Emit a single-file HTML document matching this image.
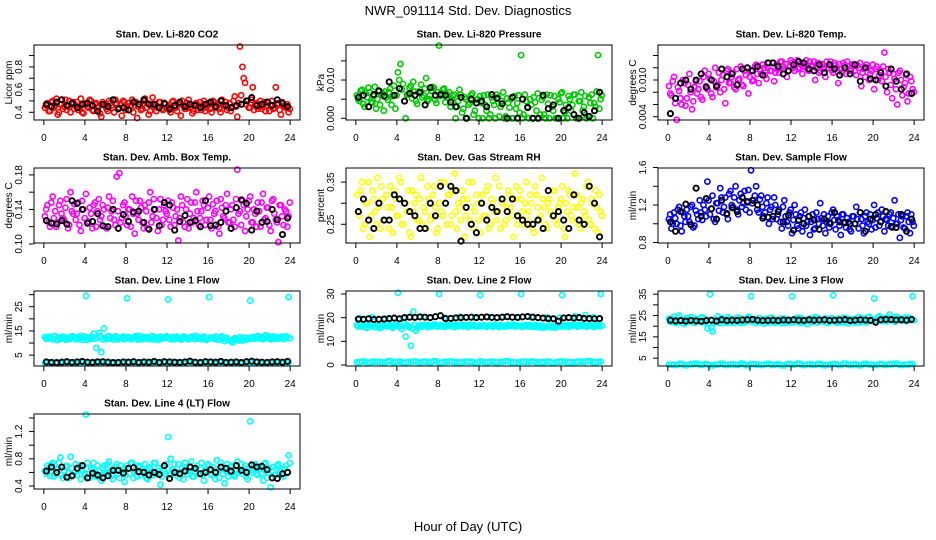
<!DOCTYPE html>
<html><head><meta charset="utf-8"><style>
html,body{margin:0;padding:0;background:#fff}
svg{display:block;font-family:"Liberation Sans",sans-serif}
</style></head><body>
<svg id="fig" width="936" height="540" viewBox="0 0 936 540" xmlns="http://www.w3.org/2000/svg">
<rect width="936" height="540" fill="#fff"/>
<text x="468" y="15" font-size="13" text-anchor="middle">NWR_091114  Std. Dev. Diagnostics</text>
<text x="468" y="531" font-size="13" text-anchor="middle">Hour of Day (UTC)</text>
</svg>
<script>
const xTicks = [0,4,8,12,16,20,24];

const co2 = [0.44,0.48,0.41,0.50,0.46,0.38,0.47,0.43,0.51,0.45,0.40,0.49,0.46,0.42,0.52,0.39,0.47,0.44,0.50,0.41,0.48,0.45,0.36,0.47,0.43,0.50,0.46,0.40,0.48,0.44,0.37,0.49,0.45,0.42,0.51,0.46,0.35,0.47,0.43,0.52,0.48,0.41,0.53,0.46,0.44,0.49,0.42,0.47,0.45,0.40,0.50,0.44,0.48,0.37,0.46,0.43,0.51,0.45,0.41,0.48,0.46,0.42,0.50,0.44,0.47,0.40,0.49,0.45,0.43,0.51,0.46,0.42,0.48,0.44,0.54,0.36,0.98,0.80,0.66,0.50,0.44,0.62,0.47,0.43,0.50,0.45,0.41,0.49,0.46,0.43,0.62,0.48,0.38,0.46,0.44,0.40];
const co2B = [0.46,0.41,0.49,0.44,0.52,0.40,0.47,0.45,0.42,0.50,0.47,0.43,0.49,0.44,0.40,0.48,0.45,0.51,0.42,0.47,0.44,0.39,0.49,0.46,0.41,0.48,0.44,0.51,0.43,0.47,0.50,0.42,0.48,0.46,0.40,0.49,0.45,0.42,0.50,0.44,0.38,0.47,0.45,0.41,0.49,0.43,0.48,0.44,0.42,0.49,0.45,0.41,0.47,0.50,0.43,0.48,0.44,0.39,0.47,0.42,0.49,0.45,0.41,0.48,0.43,0.50,0.44,0.47,0.40,0.46,0.49,0.44,0.41,0.50,0.45,0.48,0.55,0.70,0.47,0.44,0.51,0.42,0.48,0.45,0.43,0.49,0.46,0.41,0.50,0.44,0.47,0.42,0.49,0.45,0.47,0.43];
const co2Black = [0.47,0.45,0.49,0.51,0.46,0.48,0.44,0.47,0.48,0.46,0.41,0.47,0.45,0.51,0.43,0.44,0.42,0.49,0.47,0.51,0.47,0.47,0.44,0.48,0.43,0.46,0.49,0.45,0.47,0.46,0.44,0.47,0.49,0.45,0.50,0.46,0.44,0.46,0.47,0.50,0.53,0.46,0.47,0.49,0.46,0.51,0.48,0.45];

const pres = [0.0060,0.0045,0.0075,0.0030,0.0055,0.0068,0.0040,0.0082,0.0050,0.0035,0.0065,0.0070,0.0048,0.0078,0.0058,0.0025,0.0120,0.0142,0.0090,0.0000,0.0062,0.0085,0.0095,0.0045,0.0070,0.0088,0.0060,0.0105,0.0050,0.0072,0.0080,0.0040,0.0190,0.0065,0.0078,0.0055,0.0068,0.0048,0.0062,0.0030,0.0075,0.0015,0.0055,0.0000,0.0040,0.0065,0.0020,0.0050,0.0058,0.0000,0.0035,0.0062,0.0010,0.0045,0.0000,0.0055,0.0030,0.0068,0.0005,0.0040,0.0050,0.0000,0.0025,0.0060,0.0165,0.0010,0.0045,0.0000,0.0035,0.0055,0.0020,0.0000,0.0048,0.0010,0.0062,0.0000,0.0030,0.0058,0.0000,0.0042,0.0068,0.0015,0.0000,0.0050,0.0035,0.0062,0.0000,0.0045,0.0020,0.0058,0.0005,0.0040,0.0000,0.0030,0.0165,0.0050];
const presB = [0.0050,0.0072,0.0038,0.0065,0.0080,0.0042,0.0058,0.0025,0.0070,0.0062,0.0020,0.0055,0.0068,0.0035,0.0085,0.0060,0.0100,0.0075,0.0045,0.0062,0.0080,0.0052,0.0070,0.0038,0.0065,0.0055,0.0078,0.0045,0.0060,0.0082,0.0048,0.0068,0.0058,0.0075,0.0042,0.0062,0.0030,0.0058,0.0000,0.0045,0.0062,0.0025,0.0050,0.0035,0.0060,0.0010,0.0048,0.0000,0.0040,0.0060,0.0020,0.0000,0.0055,0.0035,0.0062,0.0005,0.0045,0.0000,0.0052,0.0028,0.0000,0.0058,0.0040,0.0015,0.0000,0.0062,0.0030,0.0050,0.0000,0.0042,0.0065,0.0010,0.0055,0.0000,0.0038,0.0060,0.0020,0.0000,0.0050,0.0065,0.0000,0.0035,0.0058,0.0020,0.0062,0.0000,0.0045,0.0068,0.0030,0.0000,0.0055,0.0062,0.0040,0.0070,0.0025,0.0060];
const presBlack = [0.0055,0.0060,0.0030,0.0062,0.0072,0.0058,0.0095,0.0060,0.0078,0.0045,0.0065,0.0060,0.0068,0.0035,0.0080,0.0060,0.0062,0.0060,0.0042,0.0030,0.0055,0.0000,0.0050,0.0040,0.0045,0.0030,0.0062,0.0052,0.0038,0.0000,0.0055,0.0000,0.0050,0.0028,0.0000,0.0000,0.0060,0.0025,0.0035,0.0000,0.0020,0.0028,0.0010,0.0000,0.0015,0.0005,0.0020,0.0068];

const ltemp = [0.0090,0.0075,0.0105,0.0035,0.0082,0.0060,0.0095,0.0070,0.0110,0.0052,0.0088,0.0078,0.0098,0.0068,0.0115,0.0085,0.0102,0.0072,0.0120,0.0092,0.0080,0.0108,0.0062,0.0118,0.0095,0.0112,0.0085,0.0100,0.0122,0.0090,0.0108,0.0078,0.0115,0.0100,0.0125,0.0095,0.0110,0.0120,0.0102,0.0128,0.0115,0.0098,0.0125,0.0112,0.0130,0.0118,0.0105,0.0122,0.0128,0.0115,0.0132,0.0120,0.0110,0.0126,0.0118,0.0130,0.0122,0.0100,0.0128,0.0115,0.0125,0.0105,0.0120,0.0130,0.0112,0.0124,0.0095,0.0118,0.0128,0.0110,0.0122,0.0115,0.0126,0.0108,0.0120,0.0090,0.0118,0.0125,0.0100,0.0115,0.0085,0.0122,0.0108,0.0098,0.0145,0.0080,0.0112,0.0070,0.0102,0.0060,0.0115,0.0075,0.0095,0.0065,0.0105,0.0085];
const ltempB = [0.0078,0.0098,0.0062,0.0088,0.0070,0.0100,0.0058,0.0092,0.0080,0.0065,0.0098,0.0085,0.0072,0.0105,0.0090,0.0110,0.0078,0.0098,0.0088,0.0112,0.0100,0.0085,0.0115,0.0095,0.0105,0.0088,0.0118,0.0102,0.0092,0.0115,0.0120,0.0105,0.0098,0.0122,0.0110,0.0118,0.0125,0.0108,0.0120,0.0115,0.0128,0.0112,0.0118,0.0130,0.0122,0.0126,0.0115,0.0132,0.0120,0.0126,0.0118,0.0128,0.0122,0.0132,0.0115,0.0124,0.0130,0.0120,0.0112,0.0126,0.0118,0.0130,0.0125,0.0116,0.0128,0.0120,0.0126,0.0112,0.0124,0.0130,0.0118,0.0125,0.0115,0.0124,0.0128,0.0112,0.0105,0.0120,0.0110,0.0125,0.0118,0.0100,0.0115,0.0122,0.0105,0.0118,0.0092,0.0110,0.0085,0.0112,0.0100,0.0088,0.0108,0.0078,0.0098,0.0080];
const ltempBlack = [0.0045,0.0070,0.0095,0.0100,0.0085,0.0100,0.0110,0.0088,0.0100,0.0090,0.0118,0.0105,0.0110,0.0092,0.0118,0.0120,0.0115,0.0122,0.0108,0.0128,0.0128,0.0122,0.0110,0.0115,0.0125,0.0130,0.0128,0.0118,0.0115,0.0125,0.0112,0.0125,0.0118,0.0108,0.0120,0.0110,0.0125,0.0098,0.0120,0.0102,0.0100,0.0112,0.0090,0.0118,0.0098,0.0085,0.0110,0.0078];

const amb = [0.132,0.145,0.120,0.155,0.138,0.125,0.150,0.130,0.142,0.118,0.160,0.135,0.128,0.148,0.115,0.140,0.158,0.126,0.135,0.145,0.120,0.152,0.132,0.140,0.118,0.155,0.138,0.128,0.178,0.182,0.130,0.148,0.122,0.140,0.155,0.112,0.135,0.150,0.125,0.145,0.118,0.160,0.132,0.140,0.115,0.152,0.128,0.138,0.150,0.120,0.142,0.132,0.104,0.155,0.125,0.140,0.118,0.148,0.130,0.160,0.122,0.138,0.145,0.128,0.155,0.118,0.135,0.150,0.112,0.142,0.130,0.158,0.125,0.145,0.120,0.186,0.138,0.150,0.115,0.140,0.155,0.125,0.135,0.148,0.120,0.158,0.130,0.142,0.115,0.152,0.128,0.102,0.145,0.122,0.138,0.132];
const ambB = [0.140,0.125,0.148,0.130,0.120,0.145,0.135,0.128,0.152,0.122,0.138,0.146,0.135,0.122,0.150,0.130,0.125,0.142,0.118,0.148,0.138,0.128,0.145,0.120,0.142,0.130,0.150,0.122,0.138,0.125,0.145,0.132,0.140,0.120,0.135,0.150,0.128,0.142,0.118,0.138,0.148,0.125,0.152,0.130,0.140,0.122,0.145,0.135,0.128,0.148,0.122,0.140,0.130,0.145,0.120,0.152,0.135,0.125,0.148,0.138,0.130,0.150,0.122,0.142,0.128,0.146,0.138,0.120,0.152,0.132,0.145,0.125,0.140,0.128,0.152,0.135,0.122,0.145,0.132,0.150,0.125,0.140,0.120,0.138,0.148,0.128,0.142,0.122,0.150,0.135,0.125,0.145,0.132,0.140,0.120,0.148];
const ambBlack = [0.127,0.124,0.123,0.127,0.123,0.150,0.147,0.140,0.124,0.126,0.135,0.121,0.120,0.140,0.118,0.134,0.126,0.137,0.138,0.125,0.117,0.140,0.121,0.148,0.145,0.116,0.126,0.133,0.125,0.127,0.120,0.150,0.121,0.122,0.125,0.138,0.118,0.142,0.151,0.147,0.116,0.138,0.125,0.126,0.140,0.128,0.111,0.130];

const rh = [0.32,0.27,0.35,0.25,0.30,0.22,0.33,0.28,0.36,0.24,0.31,0.26,0.29,0.34,0.23,0.31,0.27,0.35,0.25,0.30,0.33,0.22,0.28,0.32,0.26,0.36,0.29,0.24,0.31,0.27,0.34,0.23,0.30,0.28,0.35,0.25,0.32,0.27,0.37,0.24,0.29,0.33,0.22,0.31,0.26,0.35,0.28,0.30,0.23,0.32,0.27,0.34,0.25,0.30,0.36,0.28,0.24,0.31,0.26,0.33,0.29,0.22,0.34,0.27,0.31,0.25,0.35,0.28,0.30,0.23,0.32,0.26,0.36,0.29,0.24,0.31,0.27,0.33,0.25,0.30,0.34,0.22,0.28,0.32,0.26,0.37,0.29,0.24,0.31,0.27,0.35,0.25,0.30,0.33,0.23,0.28];
const rhB = [0.28,0.33,0.24,0.30,0.35,0.27,0.31,0.25,0.29,0.34,0.26,0.32,0.24,0.29,0.33,0.27,0.36,0.25,0.30,0.28,0.23,0.33,0.30,0.26,0.31,0.25,0.28,0.34,0.26,0.32,0.29,0.24,0.35,0.27,0.30,0.32,0.25,0.33,0.28,0.30,0.26,0.31,0.27,0.35,0.29,0.24,0.32,0.26,0.30,0.27,0.33,0.24,0.31,0.28,0.26,0.34,0.30,0.25,0.29,0.32,0.27,0.31,0.25,0.33,0.28,0.30,0.26,0.32,0.24,0.34,0.29,0.27,0.31,0.25,0.30,0.28,0.33,0.26,0.29,0.31,0.24,0.30,0.33,0.27,0.29,0.32,0.25,0.30,0.28,0.34,0.26,0.31,0.24,0.29,0.32,0.27];
const rhBlack = [0.28,0.31,0.26,0.24,0.30,0.26,0.26,0.32,0.31,0.30,0.28,0.27,0.24,0.24,0.30,0.27,0.34,0.30,0.34,0.33,0.21,0.29,0.25,0.23,0.30,0.26,0.29,0.28,0.31,0.28,0.31,0.27,0.26,0.25,0.25,0.26,0.24,0.33,0.27,0.28,0.26,0.24,0.32,0.26,0.25,0.34,0.30,0.22];

const sflow = [1.05,0.95,1.12,1.00,1.18,0.92,1.08,1.15,1.02,1.20,0.98,1.10,1.25,1.04,1.15,1.45,1.10,1.30,1.02,1.22,1.38,1.12,1.28,1.05,1.35,1.18,1.40,1.10,1.32,1.22,1.15,1.36,1.57,1.25,1.40,1.12,1.30,1.08,1.22,1.00,1.18,1.28,1.05,1.15,0.95,1.25,1.02,1.12,0.90,1.20,0.98,1.08,0.92,1.15,1.02,0.88,1.10,0.95,1.05,1.22,0.98,0.90,1.08,1.00,1.15,0.94,1.04,0.88,1.10,0.96,1.02,0.92,1.08,1.18,0.95,1.05,0.90,1.12,1.00,0.94,1.20,1.06,0.98,1.15,0.92,1.04,1.10,0.96,1.25,1.00,0.85,1.08,0.95,1.12,0.90,1.02];
const sflowB = [1.10,1.00,1.06,1.15,0.98,1.12,1.02,1.08,1.18,0.96,1.14,1.05,1.12,1.20,1.08,1.25,1.16,1.05,1.22,1.14,1.28,1.18,1.10,1.32,1.20,1.28,1.15,1.25,1.18,1.35,1.24,1.12,1.22,1.30,1.15,1.26,1.18,1.12,1.28,1.15,1.05,1.20,1.10,1.02,1.18,1.08,0.98,1.15,1.04,1.10,0.95,1.12,1.06,0.98,1.08,1.02,0.94,1.12,1.00,1.06,1.10,1.02,0.96,1.12,1.04,1.08,0.98,1.10,1.02,1.06,0.94,1.08,1.00,1.05,1.12,0.98,1.08,1.02,1.10,1.04,0.96,1.12,1.02,1.08,1.05,0.98,1.12,1.06,1.00,1.10,1.04,0.96,1.08,1.02,1.10,0.98];
const sflowBlack = [1.02,0.92,1.13,1.21,0.99,1.38,1.08,1.27,1.16,1.05,1.25,1.11,1.17,1.13,1.28,1.23,1.25,1.20,1.06,1.07,1.08,1.13,1.02,1.09,0.93,1.04,1.00,1.08,1.04,0.94,1.05,1.01,1.12,1.02,1.01,1.00,1.00,1.12,0.92,1.05,1.10,1.02,1.13,0.97,0.96,1.10,0.92,1.05];

const line1 = [12.5,11.8,12.2,11.5,12.8,11.2,12.0,12.6,11.4,12.3,11.9,12.7,11.6,12.1,12.9,11.3,29.5,12.4,11.7,13.8,8.0,14.2,6.2,16.0,11.5,12.8,12.0,11.4,12.5,11.9,12.3,11.6,28.5,12.2,11.8,12.6,11.4,12.9,12.1,11.7,12.4,11.5,12.8,12.0,11.3,12.6,11.9,12.2,28.0,11.6,12.5,11.8,12.3,11.4,12.7,12.0,11.5,12.4,11.8,12.9,12.2,11.6,12.6,11.3,29.0,12.1,11.7,12.5,11.4,12.8,10.8,11.9,11.2,10.2,12.0,11.5,12.4,11.0,12.2,11.7,27.5,12.5,11.8,12.9,12.3,11.6,13.2,12.0,11.5,12.7,12.1,11.8,12.4,11.6,12.8,29.0];
const line1B = [11.8,12.6,12.0,12.9,11.4,12.3,11.7,12.5,12.1,11.5,12.8,11.9,12.4,11.6,12.2,12.7,11.3,12.0,12.6,11.8,12.3,13.0,11.5,12.1,12.6,11.7,12.3,12.8,11.5,12.1,12.7,11.9,12.4,11.6,12.2,12.9,12.0,11.5,12.5,12.2,11.8,12.7,11.6,12.3,12.0,11.7,12.4,12.8,11.9,12.3,11.5,12.6,12.0,11.7,12.4,11.8,12.2,12.7,11.6,12.1,11.8,12.5,12.0,11.6,12.3,11.9,12.6,11.4,12.2,11.8,12.0,11.2,10.9,11.5,11.8,11.0,11.6,12.0,11.4,12.1,11.8,12.3,12.6,12.0,11.8,12.5,12.2,12.8,12.0,11.7,12.4,12.1,12.6,11.9,12.3,12.0];
const line1Low = [1.8,2.0,1.7,1.9,2.1,1.8,1.6,2.0,1.9,1.7,2.2,1.8,1.9,2.0,1.7,1.8,2.1,1.9,1.6,2.0,1.8,1.9,1.7,2.1,1.8,2.0,1.9,1.7,2.2,1.8,1.6,1.9,2.0,1.8,2.1,1.7,1.9,1.8,2.0,1.6,1.9,2.1,1.8,1.7,2.0,1.9,1.8,2.0];
const line1Black = [2.2,2.0,1.9,2.1,2.3,2.0,2.2,2.4,2.1,2.0,2.2,2.3,2.1,1.9,2.0,2.2,2.1,2.3,2.0,2.2,2.1,2.4,2.0,2.3,2.2,2.1,2.0,2.2,2.5,2.1,2.0,2.3,2.2,2.1,2.4,2.0,2.1,2.2,1.9,2.3,2.5,2.2,2.1,2.0,2.2,2.3,2.1,2.4];

const line2 = [16.8,19.8,16.2,17.0,15.8,16.5,20.2,16.0,17.2,15.6,16.6,19.6,16.3,17.1,15.7,16.9,30.5,16.4,19.9,12.0,16.1,8.2,22.5,14.5,16.0,16.8,20.3,16.5,16.9,16.2,17.0,16.6,30.0,16.3,20.0,16.8,16.4,17.1,16.0,16.7,20.4,16.5,16.9,16.2,17.0,16.6,20.1,16.3,29.5,16.8,16.4,20.2,16.7,16.1,17.0,16.5,16.8,20.3,16.2,16.9,16.6,17.1,16.3,20.0,30.0,16.7,16.4,16.9,20.2,16.1,16.8,16.5,15.8,16.2,20.1,16.6,15.9,16.4,16.8,20.0,29.5,16.3,16.9,16.5,16.7,20.5,16.2,17.0,16.6,21.0,16.4,16.8,20.2,16.5,16.9,30.0];
const line2B = [16.2,17.0,16.5,15.8,16.8,16.3,17.1,16.0,16.6,15.9,16.9,16.4,16.7,16.1,16.5,17.0,16.2,15.2,17.5,16.8,16.0,15.4,16.9,15.8,16.5,16.2,16.9,16.0,16.7,16.4,17.1,16.2,16.8,16.5,16.1,16.9,16.6,16.2,16.8,16.4,17.0,16.3,16.7,16.0,16.5,16.9,16.2,16.7,16.4,16.9,16.1,16.6,16.3,16.8,16.5,16.0,16.7,16.2,16.9,16.4,16.8,16.3,16.7,16.5,16.1,16.9,16.4,16.2,16.6,16.8,16.0,16.7,16.3,15.9,16.5,16.0,16.4,15.8,16.6,16.2,16.7,16.4,16.1,16.8,16.5,16.9,16.3,16.6,16.8,16.2,16.7,16.5,16.0,16.9,16.4,16.6];
const line2Low = [1.2,1.5,1.0,1.4,1.3,1.1,1.6,1.2,1.4,1.0,1.3,1.5,1.1,1.4,1.2,1.6,1.0,1.3,1.5,1.2,1.1,1.4,1.3,1.0,1.5,1.2,1.4,1.1,1.3,1.6,1.2,1.0,1.4,1.3,1.5,1.1,1.2,1.4,1.0,1.3,1.5,1.2,1.1,1.4,1.3,1.6,1.2,1.4];
const line2Black = [19.4,19.3,19.5,19.2,19.3,19.4,19.6,19.8,19.5,20.0,20.2,20.1,20.3,20.2,20.0,20.4,20.8,19.6,19.7,19.9,20.0,20.1,20.2,20.0,20.2,20.3,20.1,20.0,20.2,20.4,20.2,20.1,20.3,20.5,20.2,20.0,19.8,19.6,19.5,18.5,19.9,20.0,19.8,20.0,19.7,19.6,19.5,19.6];

const line3 = [23.5,22.0,24.5,21.5,25.0,22.8,21.2,23.8,22.4,24.0,21.6,23.0,22.6,24.2,21.8,19.0,35.0,17.5,22.2,24.6,21.4,23.6,22.0,24.2,21.8,23.2,22.5,24.0,21.5,23.4,22.2,24.4,34.0,22.8,21.6,23.8,22.4,21.2,23.5,22.0,24.0,21.6,23.0,22.5,21.4,23.6,22.0,21.8,34.0,22.6,24.0,21.5,23.2,22.2,21.0,23.6,22.4,24.2,21.8,23.0,22.2,23.8,21.6,23.4,34.5,22.0,23.6,21.8,24.0,22.6,21.4,23.2,22.8,21.6,24.2,22.2,23.4,21.8,24.4,22.6,33.0,23.0,24.6,22.4,23.8,22.2,25.5,23.4,22.0,24.4,23.0,22.6,24.0,23.2,22.8,34.0];
const line3B = [22.0,23.2,21.6,24.0,22.6,21.4,23.6,22.2,24.2,21.8,23.4,22.4,24.0,21.8,23.2,21.0,19.5,21.5,23.0,22.0,23.8,22.4,21.6,23.4,22.8,21.6,23.8,22.2,23.0,21.8,23.6,22.4,22.0,23.4,22.6,21.8,23.2,22.6,21.6,23.8,22.2,23.0,21.8,23.6,22.4,21.6,23.2,22.8,21.8,23.4,22.2,23.8,21.6,23.0,22.6,21.8,23.4,22.0,23.6,22.4,23.2,21.8,22.6,23.8,22.2,21.6,23.0,22.4,21.8,23.6,22.8,22.0,23.4,22.8,21.8,23.6,22.0,24.0,22.6,23.2,22.8,24.2,22.6,23.6,22.4,24.0,23.0,22.6,24.2,23.4,22.8,23.6,22.4,24.0,23.0,22.8];
const line3Low = [2.0,1.8,2.3,1.7,2.1,2.4,1.9,2.2,1.6,2.0,2.3,1.8,2.1,1.9,2.4,1.7,2.2,2.0,1.8,2.3,1.9,2.1,1.6,2.2,2.0,2.4,1.8,2.1,1.9,2.3,1.7,2.0,2.2,1.8,2.4,1.9,2.1,1.7,2.3,2.0,1.8,2.2,1.9,2.1,2.4,1.8,2.0,2.2];
const line3Black = [22.8,22.5,22.6,22.4,22.7,22.5,22.3,22.6,22.8,22.4,23.0,22.6,22.8,22.7,22.9,23.0,23.2,22.8,22.6,22.7,22.8,22.6,22.9,22.8,23.0,22.8,22.7,23.0,22.8,22.9,23.0,22.7,22.8,22.9,23.1,22.6,22.8,23.0,22.9,22.7,21.8,23.0,23.2,23.1,22.9,23.0,22.8,23.2];

const line4 = [0.62,0.70,0.55,0.74,0.58,0.66,0.82,0.52,0.68,0.60,0.83,0.56,0.72,0.64,0.50,0.70,1.45,0.58,0.66,0.74,0.54,0.62,0.48,0.70,0.60,0.76,0.55,0.66,0.72,0.52,0.64,0.46,0.70,0.58,0.74,0.62,0.54,0.68,0.60,0.72,0.50,0.66,0.56,0.74,0.62,0.42,0.68,0.58,1.12,0.80,0.64,0.56,0.72,0.60,0.50,0.68,0.62,0.76,0.54,0.66,0.58,0.74,0.48,0.64,0.70,0.56,0.62,0.78,0.52,0.66,0.44,0.72,0.60,0.68,0.54,0.76,0.62,0.58,0.70,0.50,1.35,0.64,0.72,0.56,0.66,0.48,0.74,0.60,0.38,0.68,0.56,0.72,0.62,0.54,0.70,0.85];
const line4B = [0.58,0.66,0.72,0.54,0.64,0.74,0.56,0.62,0.70,0.52,0.66,0.60,0.56,0.70,0.62,0.58,0.74,0.52,0.64,0.60,0.70,0.56,0.66,0.58,0.72,0.62,0.50,0.68,0.58,0.70,0.60,0.56,0.66,0.74,0.52,0.64,0.70,0.56,0.62,0.52,0.68,0.60,0.74,0.58,0.66,0.54,0.62,0.72,0.56,0.64,0.72,0.60,0.52,0.66,0.74,0.58,0.68,0.54,0.62,0.70,0.66,0.56,0.62,0.72,0.58,0.68,0.50,0.64,0.74,0.58,0.62,0.54,0.70,0.56,0.64,0.60,0.72,0.66,0.54,0.62,0.60,0.70,0.58,0.66,0.58,0.72,0.52,0.66,0.62,0.56,0.70,0.64,0.58,0.66,0.60,0.74];
const line4Black = [0.62,0.68,0.60,0.68,0.53,0.55,0.66,0.70,0.52,0.59,0.56,0.52,0.55,0.63,0.63,0.59,0.66,0.67,0.61,0.60,0.56,0.60,0.57,0.70,0.51,0.60,0.58,0.62,0.68,0.66,0.58,0.60,0.64,0.60,0.68,0.66,0.62,0.70,0.63,0.60,0.71,0.68,0.69,0.64,0.52,0.51,0.58,0.60];

const co2Ticks = [0.4,0.5,0.6,0.7,0.8,0.9], co2Labels = ["0.4","","0.6","","0.8",""];
const presTicks = [0,0.005,0.01,0.015], presLabels = ["0.000","","0.010",""];
const ltempTicks = [0.004,0.006,0.008,0.010,0.012,0.014], ltempLabels = ["0.004","","","0.010","",""];
const ambTicks = [0.10,0.12,0.14,0.16,0.18], ambLabels = ["0.10","","0.14","","0.18"];
const rhTicks = [0.25,0.30,0.35], rhLabels = ["0.25","","0.35"];
const sflowTicks = [0.8,1.0,1.2,1.4,1.6], sflowLabels = ["0.8","","1.2","","1.6"];
const line1Ticks = [5,10,15,20,25,30], line1Labels = ["5","","15","","25",""];
const line2Ticks = [0,10,20,30], line2Labels = ["0","10","20","30"];
const line3Ticks = [5,10,15,20,25,30,35], line3Labels = ["5","","15","","25","","35"];
const line4Ticks = [0.4,0.6,0.8,1.0,1.2,1.4], line4Labels = ["0.4","","0.8","","1.2",""];

const panels = [
 {id:"co2",title:"Stan. Dev. Li-820 CO2",ylab:"Licor ppm",color:"#ff0000",dom:[0.332,0.993],ticks:co2Ticks,labels:co2Labels,main:[co2,co2B],low:null,black:co2Black},
 {id:"pressure",title:"Stan. Dev. Li-820 Pressure",ylab:"kPa",color:"#00c800",dom:[-0.00044,0.01915],ticks:presTicks,labels:presLabels,main:[pres,presB],low:null,black:presBlack},
 {id:"li820-temp",title:"Stan. Dev. Li-820 Temp.",ylab:"degrees C",color:"#ff00ff",dom:[0.00346,0.01572],ticks:ltempTicks,labels:ltempLabels,main:[ltemp,ltempB],low:null,black:ltempBlack},
 {id:"amb-box-temp",title:"Stan. Dev. Amb. Box Temp.",ylab:"degrees C",color:"#ff00ff",dom:[0.1011,0.188],ticks:ambTicks,labels:ambLabels,main:[amb,ambB],low:null,black:ambBlack},
 {id:"gas-rh",title:"Stan. Dev. Gas Stream RH",ylab:"percent",color:"#ffff00",dom:[0.2056,0.3835],ticks:rhTicks,labels:rhLabels,main:[rh,rhB],low:null,black:rhBlack},
 {id:"sample-flow",title:"Stan. Dev. Sample Flow",ylab:"ml/min",color:"#0000ff",dom:[0.795,1.595],ticks:sflowTicks,labels:sflowLabels,main:[sflow,sflowB],low:null,black:sflowBlack},
 {id:"line1-flow",title:"Stan. Dev. Line 1 Flow",ylab:"ml/min",color:"#00ffff",dom:[0.51,31.5],ticks:line1Ticks,labels:line1Labels,main:[line1,line1B],low:line1Low,black:line1Black},
 {id:"line2-flow",title:"Stan. Dev. Line 2 Flow",ylab:"ml/min",color:"#00ffff",dom:[-0.42,31.25],ticks:line2Ticks,labels:line2Labels,main:[line2,line2B],low:line2Low,black:line2Black},
 {id:"line3-flow",title:"Stan. Dev. Line 3 Flow",ylab:"ml/min",color:"#00ffff",dom:[1.33,36.5],ticks:line3Ticks,labels:line3Labels,main:[line3,line3B],low:line3Low,black:line3Black},
 {id:"line4-flow",title:"Stan. Dev. Line 4 (LT) Flow",ylab:"ml/min",color:"#00ffff",dom:[0.3565,1.458],ticks:line4Ticks,labels:line4Labels,main:[line4,line4B],low:null,black:line4Black}
];

const NS = "http://www.w3.org/2000/svg";
const svg = document.getElementById("fig");
function mk(tag, attrs, parent){const e=document.createElementNS(NS,tag);for(const k in attrs)e.setAttribute(k,attrs[k]);(parent||svg).appendChild(e);return e;}

panels.forEach((p,idx)=>{
  const c = idx%3, r = Math.floor(idx/3);
  const x0 = 34+312*c, x1 = 300+312*c, y0 = 45+123*r, y1 = 120+123*r;
  const xs = h => x0 + (h+0.96)/25.92*(x1-x0);
  const ys = v => y1 - (v-p.dom[0])/(p.dom[1]-p.dom[0])*(y1-y0);
  const g = mk("g",{});
  
  
  const t = mk("text",{x:(x0+x1)/2,y:y0-7.5,"font-size":10,"font-weight":"bold","text-anchor":"middle"},g);
  t.textContent = p.title;
  
  
  const yl = mk("text",{x:0,y:0,"font-size":10,"text-anchor":"middle",transform:`translate(${x0-22},${(y0+y1)/2}) rotate(-90)`},g);
  yl.textContent = p.ylab;
  
  
  const pts = mk("g",{fill:"none"},g);
  
  
  function dot(h,v,col,sw){
    const cy = ys(v); if(cy<y0-10||cy>y1+10) return;
    const e = mk("circle",{cx:xs(h).toFixed(1),cy:cy.toFixed(1),r:2.6,stroke:col,"stroke-width":sw},pts);
    
    
  }
  p.main.forEach((arr,k)=>arr.forEach((v,i)=>dot(i*24/arr.length+0.1+k*0.12,v,p.color,1.6)));
  if(p.low) p.low.forEach((v,i)=>dot(i*24/p.low.length+0.1,v,p.color,1.6));
  if(p.low) p.low.forEach((v,i)=>dot(i*24/p.low.length+0.35,v,p.color,1.6));
  p.black.forEach((v,i)=>dot((i+0.5)*24/p.black.length,v,"#000",1.9));
  const b = mk("rect",{x:x0,y:y0,width:x1-x0,height:y1-y0,fill:"none",stroke:"#000","stroke-width":1},g);
  
  
  const xa = mk("g",{},g);
  
  
  mk("line",{x1:xs(xTicks[0]),x2:xs(xTicks[xTicks.length-1]),y1:y1,y2:y1,stroke:"#000"},xa);
  xTicks.forEach(tv=>{
    mk("line",{x1:xs(tv),x2:xs(tv),y1:y1,y2:y1+5,stroke:"#000"},xa);
    const lt = mk("text",{x:xs(tv),y:y1+21,"font-size":10,"text-anchor":"middle"},xa);
    lt.textContent = tv;
    
    
  });
  const ya = mk("g",{},g);
  
  
  mk("line",{x1:x0,x2:x0,y1:ys(p.ticks[0]),y2:ys(p.ticks[p.ticks.length-1]),stroke:"#000"},ya);
  p.ticks.forEach((tv,i)=>{
    const yy = ys(tv);
    mk("line",{x1:x0-5,x2:x0,y1:yy,y2:yy,stroke:"#000"},ya);
    if(p.labels[i]){
      const lt = mk("text",{x:0,y:0,"font-size":10,"text-anchor":"middle",transform:`translate(${x0-12},${yy}) rotate(-90)`},ya);
      lt.textContent = p.labels[i];
      
      
    }
  });
});
</script>
</body></html>
